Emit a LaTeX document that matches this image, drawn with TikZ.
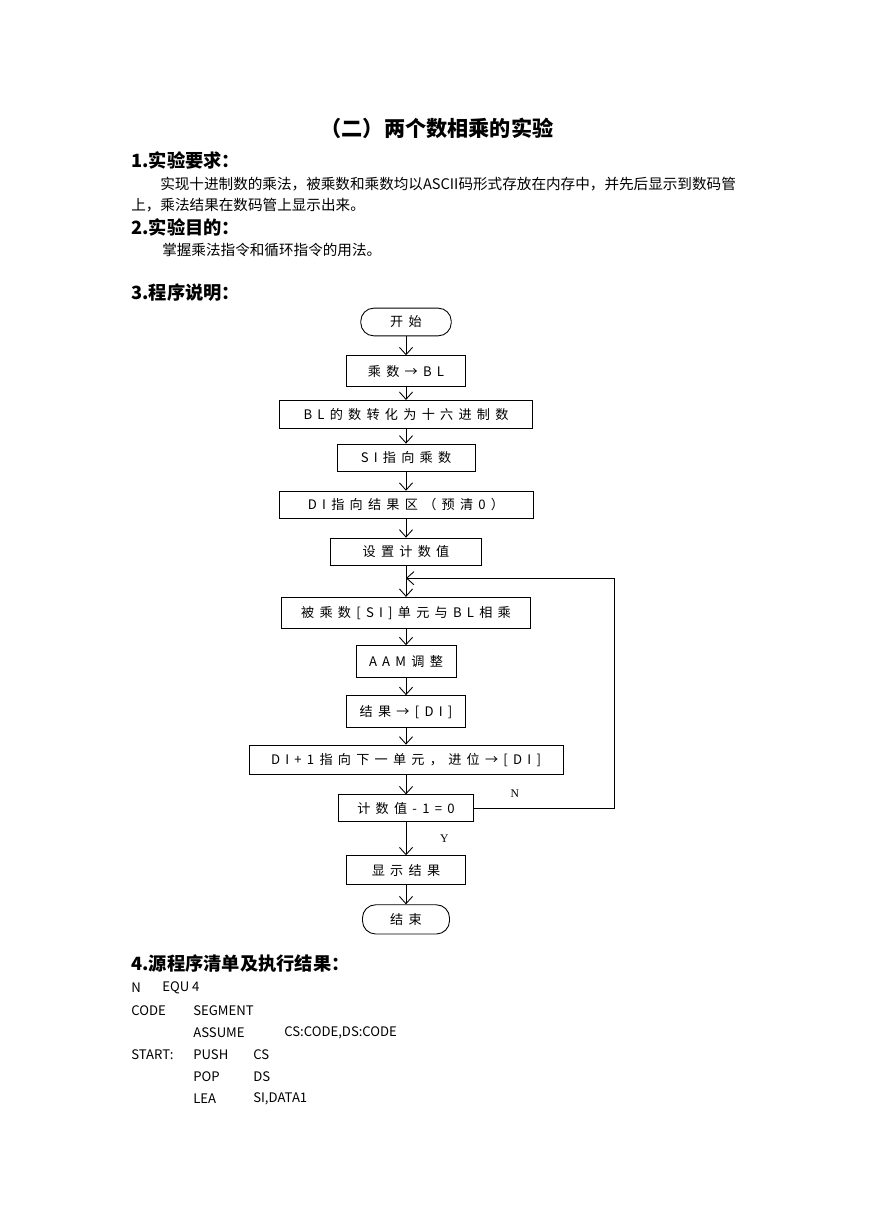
\documentclass[tikz,border=0pt]{standalone}
\usepackage{fontspec}
\usepackage{tikz}
\usetikzlibrary{arrows.meta, positioning}
\setmainfont{Noto Sans CJK SC}
\newfontfamily\flowfont[LetterSpace=40]{Noto Sans CJK SC}
\newfontfamily\markfont{Liberation Serif}
\tikzset{
  box/.style={rectangle, draw, line width=0.6pt, inner sep=0pt,
    minimum height=19pt, font=\flowfont\fontsize{9}{11}\selectfont},
  term/.style={box, rounded corners=9pt},
  flowarrow/.style={-{Straight Barb[length=5pt, width=9pt]}, line width=0.6pt},
  ynlabel/.style={font=\markfont\fontsize{8}{10}\selectfont, inner sep=1pt},
  titletext/.style={inner sep=0pt, font=\bfseries\fontsize{14.5}{17}\selectfont},
  headtext/.style={anchor=west, inner sep=0pt, font=\bfseries\fontsize{12.5}{15}\selectfont},
  bodytext/.style={anchor=west, inner sep=0pt, font=\fontsize{10}{12}\selectfont},
  codetext/.style={anchor=west, inner sep=0pt, font=\fontsize{9}{11}\selectfont},
}
\begin{document}
\begin{tikzpicture}[x=0.685pt, y=-0.685pt]
  \useasboundingbox[fill=white] (0,0) rectangle (869,1228);
  % page text
  \node[titletext] (title) at (437,128) {（二）两个数相乘的实验};
  \node[headtext] (req) at (131,160) {1.实验要求：};
  \node[bodytext] (reqa) at (160,184) {实现十进制数的乘法，被乘数和乘数均以ASCII码形式存放在内存中，并先后显示到数码管};
  \node[bodytext] (reqb) at (131,205) {上，乘法结果在数码管上显示出来。};
  \node[headtext] (aim) at (131,227) {2.实验目的：};
  \node[bodytext] (aima) at (162,250) {掌握乘法指令和循环指令的用法。};
  \node[headtext] (prog) at (131,293) {3.程序说明：};
  % flowchart
  \node[term, minimum width=62pt] (start) at (406,322) {开始};
  \node[box, below=13pt of start, minimum width=82pt, minimum height=21pt] (mul) {乘数→BL};
  \node[box, below=9pt of mul, minimum width=173pt] (hex) {BL的数转化为十六进制数};
  \node[box, below=10.3pt of hex, minimum width=94.5pt] (si) {SI指向乘数};
  \node[box, below=12.7pt of si, minimum width=174pt, minimum height=18.5pt] (di) {DI指向结果区（预清0）};
  \node[box, below=13pt of di, minimum width=104pt] (cnt) {设置计数值};
  \node[box, below=21pt of cnt, minimum width=170.6pt, minimum height=21pt] (prod) {被乘数[SI]单元与BL相乘};
  \node[box, below=11.5pt of prod, minimum width=68.5pt, minimum height=22pt] (aam) {AAM调整};
  \node[box, below=11.6pt of aam, minimum width=82pt, minimum height=22pt] (res) {结果→[DI]};
  \node[box, below=11.3pt of res, minimum width=215pt, minimum height=20pt] (next) {DI+1指向下一单元，进位→[DI]};
  \node[box, below=13.5pt of next, minimum width=93pt, minimum height=18.5pt] (dec) {计数值-1=0};
  \node[box, below=22.6pt of dec, minimum width=81.5pt, minimum height=20pt] (show) {显示结果};
  \node[term, below=13pt of show, minimum width=59.6pt, minimum height=20pt] (stop) {结束};
  \coordinate (join) at ([yshift=-8.2pt]cnt.south);
  \coordinate (loopx) at ([xshift=142.5pt]dec.center);
  \draw[flowarrow] (start) -- (mul);
  \draw[flowarrow] (mul) -- (hex);
  \draw[flowarrow] (hex) -- (si);
  \draw[flowarrow] (si) -- (di);
  \draw[flowarrow] (di) -- (cnt);
  \draw[flowarrow] (cnt) -- (prod);
  \draw[flowarrow] (prod) -- (aam);
  \draw[flowarrow] (aam) -- (res);
  \draw[flowarrow] (res) -- (next);
  \draw[flowarrow] (next) -- (dec);
  \draw[flowarrow] (dec) -- node[ynlabel, right=22pt] (yes) {Y} (show);
  \draw[flowarrow] (show) -- (stop);
  \draw[flowarrow] (dec.east) -- node[ynlabel, above=6pt, pos=0.29] (no) {N} (dec.east -| loopx) |- (join);
  % source listing
  \node[headtext] (src) at (131,964) {4.源程序清单及执行结果：};
  \node[codetext] (c1a) at (131,988) {N};
  \node[codetext] (c1b) at (162,988) {EQU 4};
  \node[codetext] (c2a) at (131,1011) {CODE};
  \node[codetext] (c2b) at (193,1011) {SEGMENT};
  \node[codetext] (c3a) at (193,1033) {ASSUME};
  \node[codetext] (c3b) at (284,1033) {CS:CODE,DS:CODE};
  \node[codetext] (c4a) at (131,1055) {START:};
  \node[codetext] (c4b) at (193,1055) {PUSH};
  \node[codetext] (c4c) at (253,1055) {CS};
  \node[codetext] (c5a) at (193,1077) {POP};
  \node[codetext] (c5b) at (253,1077) {DS};
  \node[codetext] (c6a) at (193,1099) {LEA};
  \node[codetext] (c6b) at (253,1099) {SI,DATA1};
\end{tikzpicture}
\end{document}
